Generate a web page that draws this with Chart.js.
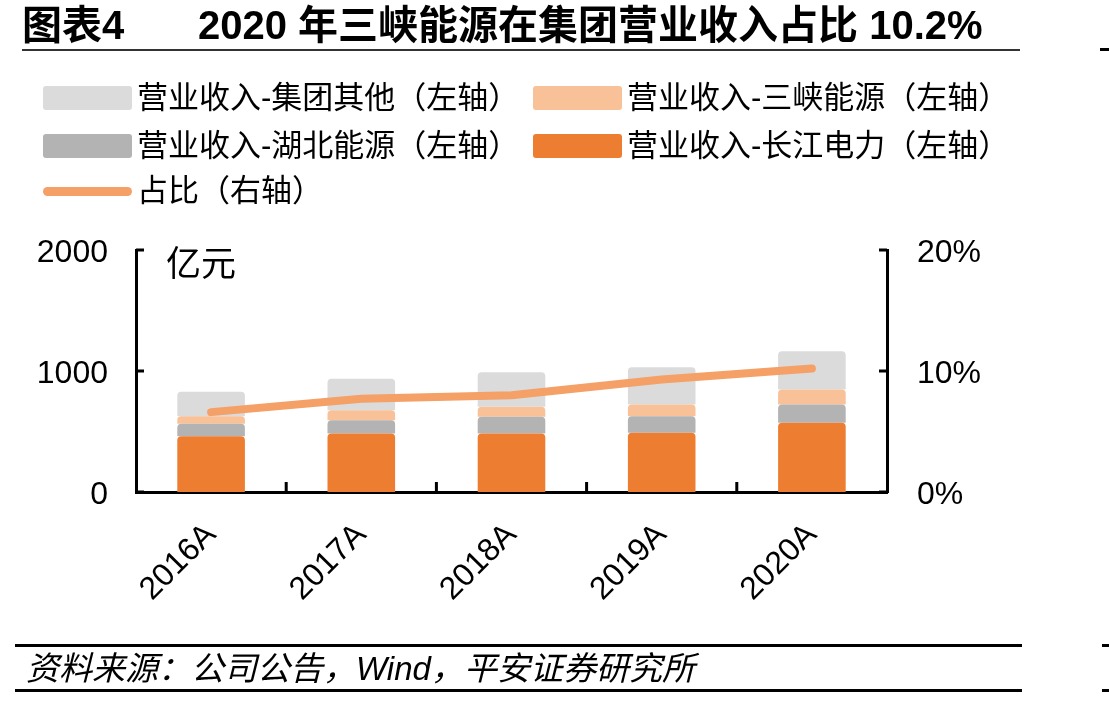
<!DOCTYPE html>
<html>
<head>
<meta charset="utf-8">
<script src="https://cdn.jsdelivr.net/npm/chart.js@4.4.0/dist/chart.umd.min.js"></script>
<style>
  html, body { margin: 0; padding: 0; background: #fff; }
  #wrap { position: relative; width: 1109px; height: 702px; overflow: hidden; font-family: "Liberation Sans", "Noto Sans CJK SC", sans-serif; color: #000; }
  #chart { position: absolute; left: 0; top: 0; }
  .abs { position: absolute; white-space: nowrap; }
  .title { font-family: "Liberation Sans", "Noto Sans CJK SC", sans-serif; font-weight: bold; font-size: 40px; top: 3px; line-height: 44px; }
  .rule { position: absolute; background: #000; }
  .lg { position: absolute; font-family: "Liberation Sans", "Noto Sans CJK SC", sans-serif; font-size: 31px; line-height: 36px; white-space: nowrap; }
  .sw { position: absolute; width: 89px; height: 24px; border-radius: 3px; }
  .src { font-family: "Liberation Sans", "Noto Sans CJK SC", sans-serif; font-style: italic; font-size: 33px; top: 650px; line-height: 38px; left: 26px; }
</style>
</head>
<body>
<div id="wrap">
  <canvas id="chart" width="1109" height="702"></canvas>

  <div class="abs title" style="left:22px;">图表4</div>
  <div class="abs title" style="left:198px;">2020 年三峡能源在集团营业收入占比 10.2%</div>
  <div class="rule" style="left:22px; top:49px; width:998px; height:2px; background:#333;"></div>
  <div class="rule" style="left:1100px; top:48px; width:9px; height:3px;"></div>

  <div id="legend"></div>

  <div class="abs" style="left:166px; top:240px; font-size:35px; font-family:'Noto Sans CJK SC', sans-serif; line-height:42px;">亿元</div>

  <div class="rule" style="left:15px; top:644px; width:1007px; height:3px;"></div>
  <div class="abs src">资料来源：公司公告，Wind，平安证券研究所</div>
  <div class="rule" style="left:15px; top:689px; width:1007px; height:3px;"></div>
  <div class="rule" style="left:1102px; top:644px; width:7px; height:3px;"></div>
  <div class="rule" style="left:1102px; top:689px; width:7px; height:3px;"></div>
</div>

<script>
// 数据
var years = ['2016A', '2017A', '2018A', '2019A', '2020A'];
var changjiang = [461, 483, 483, 489, 572];   // 长江电力
var hubei = [103, 110, 138, 137, 151];        // 湖北能源
var sanxia = [62, 83, 83, 97, 124];           // 三峡能源
var qita = [202, 259, 286, 308, 317];         // 集团其他
var zhanbi = [6.6, 7.7, 8.0, 9.3, 10.2];      // 占比 %
var leftTicks = [0, 1000, 2000];
var rightTicks = [0, 10, 20];

var seriesNames = ['营业收入-集团其他（左轴）', '营业收入-三峡能源（左轴）', '营业收入-湖北能源（左轴）', '营业收入-长江电力（左轴）', '占比（右轴）'];
var colors = {
    qita: '#DBDBDB',
    sanxia: '#F8C198',
    hubei: '#B3B3B3',
    changjiang: '#ED7D31',
    line: '#F4A066'
};

// 图例 (HTML)
var legendItems = [
    { text: seriesNames[0], color: colors.qita, x: 43, y: 98 },
    { text: seriesNames[1], color: colors.sanxia, x: 533, y: 98 },
    { text: seriesNames[2], color: colors.hubei, x: 43, y: 146 },
    { text: seriesNames[3], color: colors.changjiang, x: 533, y: 146 },
    { text: seriesNames[4], color: colors.line, x: 43, y: 191, line: true }
];
var legendBox = document.getElementById('legend');
legendItems.forEach(function (it) {
    var sw = document.createElement('div');
    sw.className = 'sw';
    sw.style.left = it.x + 'px';
    sw.style.background = it.color;
    if (it.line) {
        sw.style.height = '9px';
        sw.style.borderRadius = '5px';
        sw.style.top = (it.y - 4) + 'px';
    } else {
        sw.style.top = (it.y - 12) + 'px';
    }
    legendBox.appendChild(sw);
    var tx = document.createElement('div');
    tx.className = 'lg';
    tx.textContent = it.text;
    tx.style.left = (it.x + 94) + 'px';
    tx.style.top = (it.y - 18) + 'px';
    legendBox.appendChild(tx);
});

// 坐标轴刻度线 (朝内)
var innerTicks = {
    id: 'innerTicks',
    afterDraw: function (chart) {
        var ctx = chart.ctx;
        var area = chart.chartArea;
        var y = chart.scales.y, y1 = chart.scales.y1, x = chart.scales.x;
        ctx.save();
        ctx.strokeStyle = '#000';
        ctx.lineWidth = 3;
        ctx.beginPath();
        leftTicks.forEach(function (v) {
            var py = Math.round(y.getPixelForValue(v));
            ctx.moveTo(area.left, py);
            ctx.lineTo(area.left + 8, py);
        });
        rightTicks.forEach(function (v) {
            var py = Math.round(y1.getPixelForValue(v));
            ctx.moveTo(area.right, py);
            ctx.lineTo(area.right - 8, py);
        });
        for (var i = 1; i < years.length; i++) {
            var px = (x.getPixelForValue(i - 1) + x.getPixelForValue(i)) / 2;
            ctx.moveTo(px, area.bottom);
            ctx.lineTo(px, area.bottom - 10);
        }
        ctx.stroke();
        ctx.restore();
    }
};

var axisFont = { family: 'Liberation Sans', size: 32 };
var radius = { topLeft: 4, topRight: 4, bottomLeft: 0, bottomRight: 0 };

var ctx = document.getElementById('chart').getContext('2d');
var chart = new Chart(ctx, {
    type: 'bar',
    data: {
        labels: years,
        datasets: [
            { label: seriesNames[4], type: 'line', data: zhanbi, yAxisID: 'y1', borderColor: colors.line, backgroundColor: colors.line, borderWidth: 8, borderCapStyle: 'round', borderJoinStyle: 'round', pointRadius: 0, tension: 0, order: 0 },
            { label: seriesNames[3], data: changjiang, backgroundColor: colors.changjiang, yAxisID: 'y', borderRadius: radius, borderSkipped: false, order: 1 },
            { label: seriesNames[2], data: hubei, backgroundColor: colors.hubei, yAxisID: 'y', borderRadius: radius, borderSkipped: false, order: 1 },
            { label: seriesNames[1], data: sanxia, backgroundColor: colors.sanxia, yAxisID: 'y', borderRadius: radius, borderSkipped: false, order: 1 },
            { label: seriesNames[0], data: qita, backgroundColor: colors.qita, yAxisID: 'y', borderRadius: radius, borderSkipped: false, order: 1 }
        ]
    },
    options: {
        responsive: false,
        animation: false,
        layout: { padding: { left: 0, right: 0, top: 250, bottom: 0 } },
        datasets: { bar: { categoryPercentage: 0.9, barPercentage: 0.5 } },
        plugins: { legend: { display: false }, tooltip: { enabled: false } },
        scales: {
            x: {
                stacked: true,
                grid: { display: false, drawTicks: false },
                border: { display: true, color: '#000', width: 3 },
                ticks: { color: '#000', font: axisFont, minRotation: 45, maxRotation: 45, padding: 24 },
                afterFit: function (s) { s.height = 210; }
            },
            y: {
                stacked: true,
                position: 'left',
                min: 0, max: 2000,
                afterBuildTicks: function (s) { s.ticks = leftTicks.map(function (v) { return { value: v }; }); },
                grid: { display: false, drawTicks: false },
                border: { display: true, color: '#000', width: 3 },
                ticks: { color: '#000', font: axisFont, padding: 28, labelOffset: 3, callback: function (v) { return String(v); } },
                afterFit: function (s) { s.width = 136; }
            },
            y1: {
                position: 'right',
                min: 0, max: 20,
                afterBuildTicks: function (s) { s.ticks = rightTicks.map(function (v) { return { value: v }; }); },
                grid: { display: false, drawTicks: false },
                border: { display: true, color: '#000', width: 3 },
                ticks: { color: '#000', font: axisFont, padding: 30, labelOffset: 3, callback: function (v) { return v + '%'; } },
                afterFit: function (s) { s.width = 222; }
            }
        }
    },
    plugins: [innerTicks]
});
</script>
</body>
</html>
